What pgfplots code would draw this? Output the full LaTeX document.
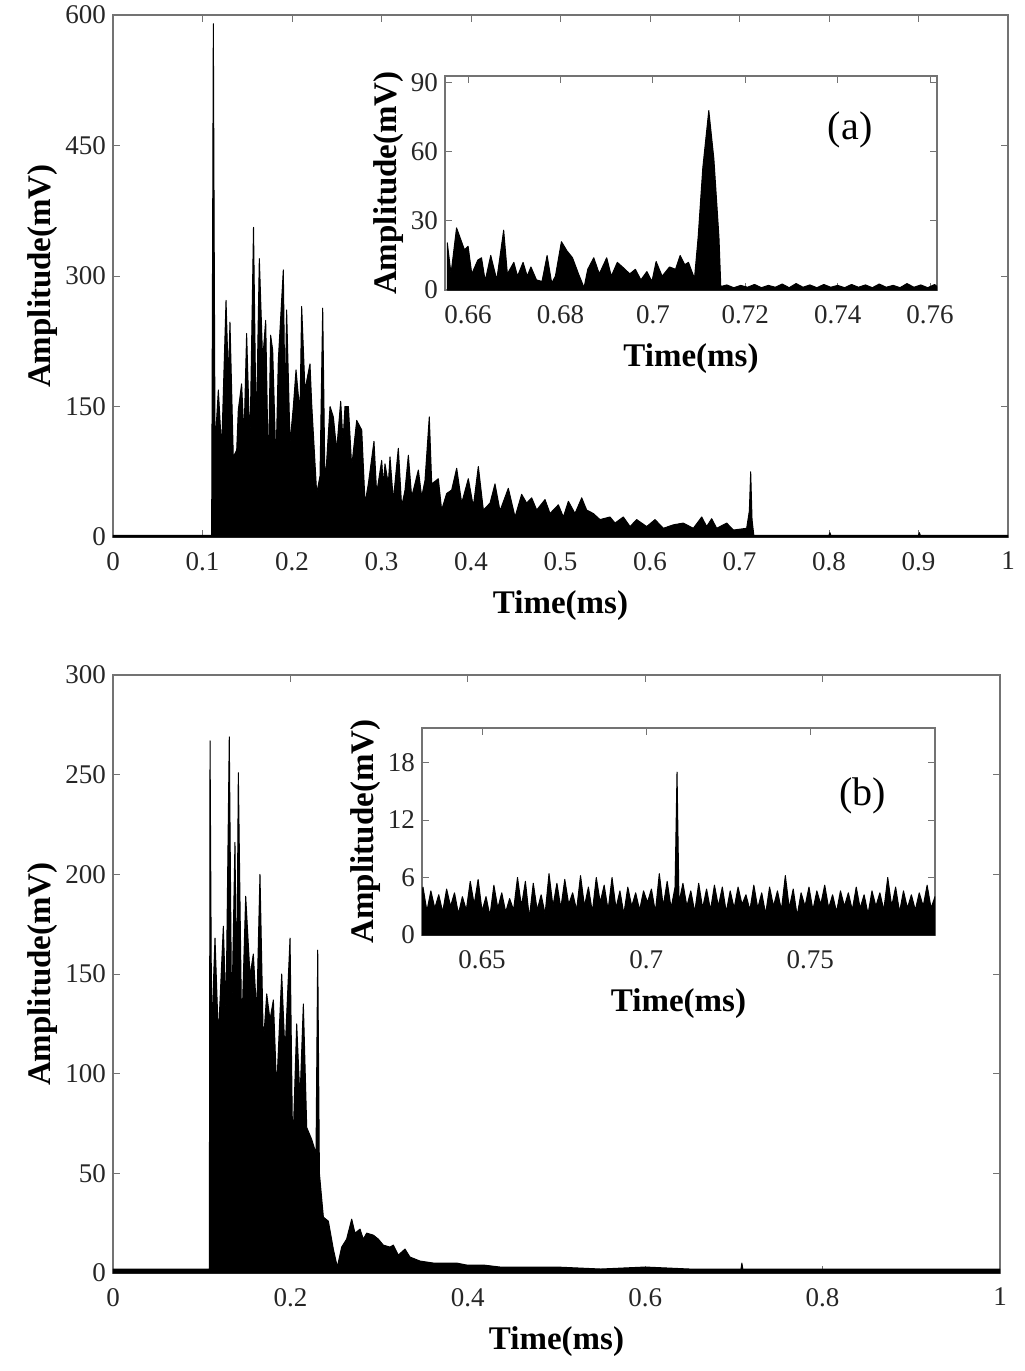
\documentclass[border=0pt]{standalone}
\usepackage{fontspec}
\setmainfont{Liberation Serif}
\usepackage{pgfplots}
\pgfplotsset{compat=1.18}

\pgfplotsset{
  sig/.style={
    scale only axis,
    axis line style={black!55, line width=0.6pt},
    tick style={black!55, line width=0.5pt},
    tick align=inside,
    major tick length=3.5pt,
    ymin=0,
    axis background/.style={fill=white},
    ticklabel style={font=\fontsize{13.5}{13.5}\selectfont, text=black!85},
    xticklabel style={yshift=-4pt},
    label style={font=\fontsize{16.5}{17}\selectfont\bfseries},
    xlabel style={yshift=-3pt},
    ylabel style={yshift=-3pt},
    /pgf/number format/assume math mode=true,
    xlabel={Time(ms)},
    ylabel={Amplitude(mV)},
  },
  trace/.style={draw=black, fill=black, line width=0.5pt, line join=round},
}

\begin{document}
\begin{tikzpicture}
\useasboundingbox (0,0) rectangle (512pt,-685.5pt);

% ---------------- top panel ----------------
\begin{axis}[sig,
  at={(56.5pt,-7.5pt)}, anchor=north west,
  width=447.5pt, height=261pt,
  xmin=0, xmax=1, ymax=600,
  xtick={0,0.1,...,1}, ytick={0,150,300,450,600},
]
\addplot[trace] coordinates {
(0,2) (0.05,2) (0.1102,2)
(0.1121,590) (0.1140,104) (0.1177,169) (0.1214,100) (0.1263,272) (0.1289,180)
(0.1307,247) (0.1344,92) (0.1382,100) (0.1400,146) (0.1437,176) (0.1464,115)
(0.1493,234) (0.1530,104) (0.1570,356) (0.1600,115) (0.1635,320) (0.1672,203)
(0.1706,249) (0.1736,73) (0.1761,232) (0.1784,215) (0.1821,84) (0.1847,203)
(0.1903,307) (0.1922,150) (0.1940,261) (0.1978,108) (0.2015,150) (0.2045,192)
(0.2089,142) (0.2108,265) (0.2145,169) (0.2201,199) (0.2220,153) (0.2276,50)
(0.2313,70) (0.2343,263) (0.2369,57) (0.2425,150) (0.2462,138) (0.2499,100)
(0.2544,156) (0.2570,110) (0.2592,150) (0.2630,150) (0.2667,81) (0.2723,134)
(0.2779,123) (0.2816,39) (0.2853,61) (0.2916,110) (0.2946,50) (0.3002,88)
(0.3020,60) (0.3039,84) (0.3076,61) (0.3095,92) (0.3132,42) (0.3188,102)
(0.3225,35) (0.3263,54) (0.3300,94) (0.3337,46) (0.3412,77) (0.3449,46)
(0.3486,65) (0.3534,138) (0.3561,61) (0.3635,67) (0.3672,31) (0.3728,50)
(0.3784,54) (0.3840,79) (0.3896,39) (0.3970,67) (0.4026,35) (0.4082,81)
(0.4138,31) (0.4213,39) (0.4268,61) (0.4324,30) (0.4417,56) (0.4492,23)
(0.4566,49) (0.4622,39) (0.4678,45) (0.4734,31) (0.4827,43) (0.4883,27)
(0.4976,37) (0.5032,23) (0.5088,41) (0.5162,27) (0.5237,45) (0.5292,31)
(0.5367,27) (0.5441,20) (0.5553,23) (0.5609,16) (0.5702,23) (0.5777,12)
(0.5851,20) (0.5963,12) (0.6056,20) (0.6149,10) (0.6261,14) (0.6372,16)
(0.6484,10) (0.6578,23) (0.6633,12) (0.6689,21) (0.6745,10) (0.6857,16)
(0.6931,8) (0.7080,10) (0.7110,30) (0.7125,75) (0.7140,20) (0.7160,2)
(0.80,2) (0.801,5) (0.802,2) (0.90,2) (0.901,5) (0.902,2) (1,2)
} \closedcycle;
\end{axis}

\begin{axis}[sig,
  at={(222.5pt,-38pt)}, anchor=north west,
  width=246pt, height=107pt,
  xmin=0.655, xmax=0.7615, ymax=93,
  xtick={0.66,0.68,...,0.761}, ytick={0,30,60,90},
]
\addplot[trace] coordinates {
(0.6555,20.5) (0.6563,7) (0.6575,27) (0.6584,22) (0.6592,17.5) (0.6600,19)
(0.6608,7) (0.6621,13) (0.6629,14) (0.6637,4) (0.6649,15) (0.6662,4.4)
(0.6677,26) (0.6685,7) (0.6699,12) (0.6707,6) (0.6719,12) (0.6728,6)
(0.6736,10) (0.6748,4.4) (0.6760,3.7) (0.6771,15) (0.6781,3) (0.6789,6)
(0.6802,21) (0.6814,17) (0.6826,14) (0.6839,7) (0.6851,1) (0.6859,9)
(0.6872,14) (0.6884,7) (0.6900,14) (0.6910,6) (0.6923,12) (0.6937,9.5)
(0.6950,7) (0.6962,9) (0.6974,4.4) (0.6987,8) (0.6998,3.7) (0.7007,12.4)
(0.7020,6) (0.7036,10) (0.7049,9) (0.7059,15) (0.7069,11) (0.7077,12)
(0.7090,5) (0.7098,23) (0.7108,53) (0.7121,78) (0.7132,57) (0.7143,23)
(0.7147,1.5) (0.7160,2.2) (0.7175,1) (0.7190,2) (0.7205,1.2) (0.7220,2.4)
(0.7235,1) (0.7250,2) (0.7265,1.2) (0.7280,2.6) (0.7295,1) (0.7310,2.8)
(0.7325,1.2) (0.7340,2.2) (0.7355,1) (0.7370,2.4) (0.7385,1.2) (0.7400,2)
(0.7415,1) (0.7430,2.4) (0.7445,1.2) (0.7460,2.2) (0.7475,1) (0.7490,2.6)
(0.7505,1.2) (0.7520,2) (0.7535,1) (0.7550,2.8) (0.7565,1.2) (0.7580,2.2)
(0.7595,1) (0.7610,2.4) (0.7615,1.5)
} \closedcycle;
\node[font=\fontsize{20}{20}\selectfont] at (axis cs:0.7427,69.6) {(a)};
\end{axis}

% ---------------- bottom panel ----------------
\begin{axis}[sig,
  at={(56.5pt,-337.5pt)}, anchor=north west,
  width=443.5pt, height=299pt,
  xmin=0, xmax=1, ymax=300,
  xtick={0,0.2,...,1}, ytick={0,50,...,300},
]
\addplot[trace] coordinates {
(0,2) (0.05,2) (0.1086,2)
(0.1094,267) (0.1112,120) (0.1150,168) (0.1188,118) (0.1244,174) (0.1274,130)
(0.1311,269) (0.1338,125) (0.1375,216) (0.1394,135) (0.1413,251) (0.1451,120)
(0.1496,189) (0.1545,149) (0.1582,160) (0.1620,130) (0.1657,200) (0.1695,115)
(0.1733,140) (0.1770,127) (0.1808,137) (0.1845,92) (0.1902,150) (0.1939,110)
(0.1996,168) (0.2026,60) (0.2071,125) (0.2108,87) (0.2146,135) (0.2184,73)
(0.2240,67) (0.2289,60) (0.2308,162) (0.2327,50) (0.2372,28) (0.2428,26)
(0.2484,12) (0.2529,3) (0.2578,13) (0.2634,17) (0.2691,27) (0.2728,20)
(0.2785,22) (0.2822,17) (0.2860,20) (0.2935,19) (0.2991,17) (0.3047,14)
(0.3123,13) (0.3160,14) (0.3217,9) (0.3292,12) (0.3348,8) (0.3461,6)
(0.3611,5) (0.3874,5) (0.3987,4) (0.4175,4) (0.4363,3) (0.50,3)
(0.55,2) (0.60,3) (0.65,2) (0.708,2) (0.709,5) (0.710,2) (0.80,2) (0.90,2) (1,2)
} \closedcycle;
\end{axis}

\begin{axis}[sig,
  at={(211pt,-364pt)}, anchor=north west,
  width=256.5pt, height=103.5pt,
  xmin=0.6317, xmax=0.788, ymax=21.6,
  xtick={0.65,0.7,0.75}, ytick={0,6,12,18},
]
\addplot[trace] coordinates {
(0.6317,4.4) (0.6320,5.0) (0.6332,2.5) (0.6344,4.6) (0.6356,2.8) (0.6368,4.2)
(0.6380,2.4) (0.6392,4.8) (0.6404,3.0) (0.6416,4.4) (0.6428,2.2) (0.6440,4.0)
(0.6452,2.6) (0.6464,5.6) (0.6476,3.2) (0.6488,5.8) (0.6500,2.5) (0.6512,4.0)
(0.6524,2.0) (0.6536,5.2) (0.6548,2.8) (0.6560,4.4) (0.6572,2.4) (0.6584,3.8)
(0.6596,2.6) (0.6608,6.0) (0.6620,3.0) (0.6632,5.6) (0.6644,1.8) (0.6656,5.4)
(0.6668,2.6) (0.6680,4.2) (0.6692,2.2) (0.6704,6.4) (0.6716,3.0) (0.6728,5.4)
(0.6740,2.8) (0.6752,5.8) (0.6764,3.2) (0.6776,4.4) (0.6788,2.6) (0.6800,6.2)
(0.6812,3.0) (0.6824,5.0) (0.6836,2.4) (0.6848,6.0) (0.6860,3.4) (0.6872,5.2)
(0.6884,2.6) (0.6896,6.0) (0.6908,2.8) (0.6920,4.6) (0.6932,2.2) (0.6944,5.0)
(0.6956,3.0) (0.6968,4.4) (0.6980,2.6) (0.6992,4.6) (0.7004,3.4) (0.7016,4.8)
(0.7028,2.4) (0.7040,6.4) (0.7052,3.0) (0.7064,5.6) (0.7076,2.8) (0.7088,5.0)
(0.7094,17.0) (0.7100,3.4) (0.7112,5.4) (0.7124,3.0) (0.7136,4.6) (0.7148,2.4)
(0.7160,5.4) (0.7172,2.8) (0.7184,4.8) (0.7196,2.6) (0.7208,5.2) (0.7220,3.0)
(0.7232,5.0) (0.7244,2.4) (0.7256,4.6) (0.7268,2.8) (0.7280,5.0) (0.7292,3.2)
(0.7304,4.2) (0.7316,2.6) (0.7328,5.2) (0.7340,2.8) (0.7352,4.4) (0.7364,2.2)
(0.7376,5.0) (0.7388,3.0) (0.7400,4.6) (0.7412,2.6) (0.7424,6.2) (0.7436,2.8)
(0.7448,4.8) (0.7460,2.0) (0.7472,4.4) (0.7484,3.0) (0.7496,5.0) (0.7508,2.6)
(0.7520,4.6) (0.7532,3.2) (0.7544,5.2) (0.7556,2.8) (0.7568,4.2) (0.7580,2.4)
(0.7592,4.6) (0.7604,3.0) (0.7616,4.4) (0.7628,2.6) (0.7640,5.0) (0.7652,2.8)
(0.7664,4.2) (0.7676,2.2) (0.7688,4.6) (0.7700,3.0) (0.7712,4.4) (0.7724,2.6)
(0.7736,6.0) (0.7748,3.0) (0.7760,5.0) (0.7772,2.4) (0.7784,4.6) (0.7796,2.8)
(0.7808,4.2) (0.7820,2.6) (0.7832,4.4) (0.7844,3.0) (0.7856,5.2) (0.7868,2.8)
(0.7880,4.0)
} \closedcycle;
\node[font=\fontsize{20}{20}\selectfont] at (axis cs:0.766,14.5) {(b)};
\end{axis}
\end{tikzpicture}
\end{document}
